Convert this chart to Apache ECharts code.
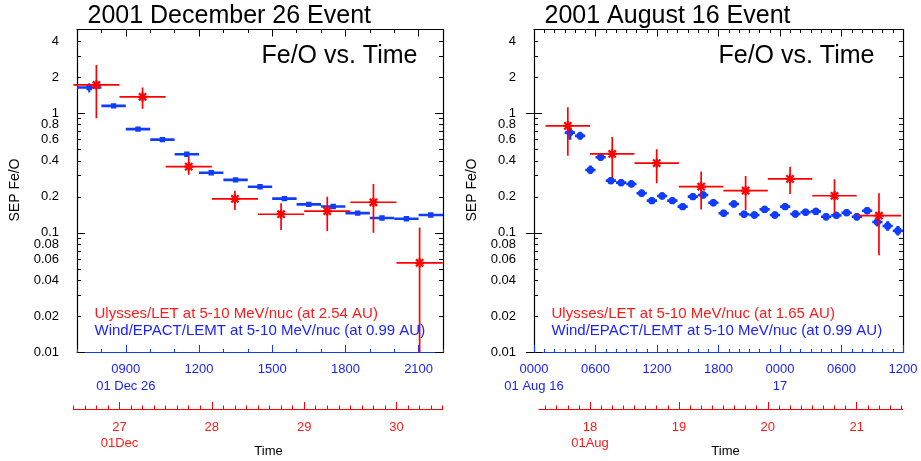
<!DOCTYPE html>
<html><head><meta charset="utf-8">
<script src="https://cdn.jsdelivr.net/npm/echarts@6/dist/echarts.min.js"></script>
<style>html,body{margin:0;padding:0;background:#fff}#c{width:921px;height:461px}</style>
</head><body><div id="c"></div><script>
// ===== 2001 December 26 event =====
// Wind/EPACT/LEMT (hour of Dec 26, bin centre)
const decWindHour = [7.5, 8.5, 9.5, 10.5, 11.5, 12.5, 13.5, 14.5, 15.5, 16.5, 17.5, 18.5, 19.5, 20.5, 21.5];
const decWindFeO  = [1.64, 1.15, 0.735, 0.601, 0.454, 0.318, 0.277, 0.243, 0.193, 0.173, 0.166, 0.146, 0.133, 0.131, 0.141];
const decWindLo   = [1.49, 1.12, 0.715, 0.585, 0.442, 0.309, 0.269, 0.236, 0.187, 0.168, 0.161, 0.141, 0.129, 0.127, 0.137];
const decWindHi   = [1.78, 1.18, 0.755, 0.617, 0.466, 0.327, 0.285, 0.250, 0.199, 0.178, 0.171, 0.151, 0.137, 0.135, 0.145];
// Ulysses/LET (day of Dec 2001, bin centre)
const decUlyDay = [26.75, 27.25, 27.75, 28.25, 28.75, 29.25, 29.75, 30.25];
const decUlyFeO = [1.72, 1.37, 0.357, 0.192, 0.143, 0.152, 0.180, 0.0562];
const decUlyLo  = [0.908, 1.086, 0.305, 0.155, 0.1055, 0.1035, 0.100, 0.005];
const decUlyHi  = [2.52, 1.637, 0.43, 0.225, 0.177, 0.2005, 0.256, 0.111];

// ===== 2001 August 16 event =====
// Wind/EPACT/LEMT (hours since Aug 16 00:00, bin centre)
const augWindHour = [3.5, 4.5, 5.5, 6.5, 7.5, 8.5, 9.5, 10.5, 11.5, 12.5, 13.5, 14.5, 15.5, 16.5, 17.5, 18.5, 19.5, 20.5, 21.5, 22.5, 23.5, 24.5, 25.5, 26.5, 27.5, 28.5, 29.5, 30.5, 31.5, 32.5, 33.5, 34.5, 35.5];
const augWindFeO  = [0.688, 0.646, 0.335, 0.4285, 0.273, 0.2626, 0.256, 0.214, 0.1857, 0.203, 0.1857, 0.1654, 0.2005, 0.207, 0.1786, 0.1456, 0.174, 0.143, 0.141, 0.157, 0.141, 0.1654, 0.1436, 0.1485, 0.151, 0.1364, 0.140, 0.1473, 0.1364, 0.153, 0.123, 0.114, 0.104];
const augWindLo   = [0.60, 0.60, 0.31, 0.40, 0.255, 0.245, 0.24, 0.20, 0.174, 0.19, 0.174, 0.155, 0.188, 0.194, 0.167, 0.136, 0.163, 0.134, 0.132, 0.147, 0.132, 0.155, 0.134, 0.139, 0.141, 0.127, 0.131, 0.138, 0.127, 0.143, 0.113, 0.104, 0.095];
const augWindHi   = [0.76, 0.70, 0.365, 0.46, 0.293, 0.282, 0.275, 0.23, 0.199, 0.218, 0.199, 0.177, 0.215, 0.222, 0.192, 0.156, 0.187, 0.153, 0.151, 0.168, 0.151, 0.177, 0.154, 0.159, 0.162, 0.146, 0.150, 0.158, 0.146, 0.164, 0.134, 0.125, 0.114];
// Ulysses/LET (day of Aug 2001, bin centre)
const augUlyDay = [17.75, 18.25, 18.75, 19.25, 19.75, 20.25, 20.75, 21.25];
const augUlyFeO = [0.783, 0.456, 0.382, 0.243, 0.225, 0.282, 0.204, 0.139];
const augUlyLo  = [0.44, 0.286, 0.26, 0.157, 0.155, 0.211, 0.146, 0.065];
const augUlyHi  = [1.12, 0.633, 0.50, 0.325, 0.299, 0.357, 0.28, 0.214];

// ===== axis ticks / labels =====
const yLabels     = [0.01, 0.02, 0.04, 0.06, 0.08, 0.1, 0.2, 0.4, 0.6, 0.8, 1, 2, 4];
const yMajorTicks = [0.01, 0.1, 1];
const yMinorTicks = [0.02, 0.03, 0.04, 0.05, 0.06, 0.07, 0.08, 0.09, 0.2, 0.3, 0.4, 0.5, 0.6, 0.7, 0.8, 0.9, 2, 3, 4];
const decHourLabels = [9, 12, 15, 18, 21];
const decHourDate   = {9: '01 Dec 26'};
const decDayLabels  = [27, 28, 29, 30];
const decDayDate    = {27: '01Dec'};
const augHourLabels = [0, 6, 12, 18, 24, 30, 36];
const augHourDate   = {0: '01 Aug 16', 24: '17'};
const augDayLabels  = [18, 19, 20, 21];
const augDayDate    = {18: '01Aug'};

const WIND_HALF_BIN_H = 0.5;   // 1-hour bins
const ULY_HALF_BIN_D = 0.25;   // 12-hour bins

const BLUE = '#0f3cff', BLUE_TXT = '#1c22ff', RED = '#ff0000', RED_TXT = '#ff1a1a';
const FONT = '"Liberation Sans", Arial, Helvetica, sans-serif';

function range(a, b, s) { const r = []; for (let v = a; v <= b + 1e-9; v += s) r.push(+v.toFixed(4)); return r; }
function hhmm(h) { h = ((Math.round(h) % 24) + 24) % 24; return (h < 10 ? '0' : '') + h + '00'; }
function yfmt(v) { return String(+(+v).toPrecision(2)); }
function rows(a, b, c, d) { return a.map((v, i) => [v, b[i], c[i], d[i]]); }

function windRender(kind) {
  return function (params, api) {
    const x = api.value(0), y = api.value(1), lo = api.value(2), hi = api.value(3);
    const c = api.coord([x, y]);
    const l = api.coord([x - WIND_HALF_BIN_H, y]), r = api.coord([x + WIND_HALF_BIN_H, y]);
    const t = api.coord([x, hi]), b = api.coord([x, lo]);
    const ch = [
      {type: 'line', shape: {x1: l[0], y1: c[1], x2: r[0], y2: c[1]}, style: {stroke: BLUE, lineWidth: 2.6}},
      {type: 'line', shape: {x1: c[0], y1: t[1], x2: c[0], y2: b[1]}, style: {stroke: BLUE, lineWidth: kind === 'square' ? 2 : 3}}
    ];
    if (kind === 'square') ch.push({type: 'rect', shape: {x: c[0] - 2.7, y: c[1] - 2.7, width: 5.4, height: 5.4}, style: {fill: BLUE}});
    else ch.push({type: 'circle', shape: {cx: c[0], cy: c[1], r: 3.7}, style: {fill: BLUE}});
    return {type: 'group', children: ch};
  };
}
function ulyRender(params, api) {
  const x = api.value(0), y = api.value(1), lo = api.value(2), hi = api.value(3);
  const c = api.coord([x, y]);
  const l = api.coord([x - ULY_HALF_BIN_D, y]), r = api.coord([x + ULY_HALF_BIN_D, y]);
  const t = api.coord([x, hi]), b = api.coord([x, lo]);
  const s = 4.6, d = 3.6;
  const st = {stroke: RED, lineWidth: 1.7};
  const st2 = {stroke: RED, lineWidth: 2.2};
  return {type: 'group', children: [
    {type: 'line', shape: {x1: l[0], y1: c[1], x2: r[0], y2: c[1]}, style: st},
    {type: 'line', shape: {x1: c[0], y1: t[1], x2: c[0], y2: b[1]}, style: st},
    {type: 'line', shape: {x1: c[0] - s, y1: c[1], x2: c[0] + s, y2: c[1]}, style: st2},
    {type: 'line', shape: {x1: c[0], y1: c[1] - s, x2: c[0], y2: c[1] + s}, style: st2},
    {type: 'line', shape: {x1: c[0] - d, y1: c[1] - d, x2: c[0] + d, y2: c[1] + d}, style: st2},
    {type: 'line', shape: {x1: c[0] - d, y1: c[1] + d, x2: c[0] + d, y2: c[1] - d}, style: st2}
  ]};
}

const option = {animation: false, backgroundColor: '#fff', grid: [], xAxis: [], yAxis: [], series: [], graphic: []};
const OFF = {show: false};
const TOP = 29.5, H = 323;

function addPanel(P) {
  const g = option.grid.length;
  option.grid.push({left: P.left, top: TOP, width: P.width, height: H, containLabel: false, outerBoundsMode: 'none', show: false});
  option.grid.push({left: P.redLeft, top: TOP, width: P.redWidth, height: H, containLabel: false, outerBoundsMode: 'none', show: false});
  const x0 = option.xAxis.length, y0 = option.yAxis.length;
  const minor = range(P.hMin, P.hMax, 1);
  // blue bottom axis (data axis, minor ticks + labels)
  option.xAxis.push({type: 'value', gridIndex: g, position: 'bottom', min: P.hMin, max: P.hMax,
    axisLine: {show: true, onZero: false, lineStyle: {color: BLUE, width: 1.2}},
    axisTick: {show: true, inside: true, length: 3.5, lineStyle: {color: BLUE, width: 1}, customValues: minor},
    axisLabel: {show: true, margin: 8, customValues: P.hLabels, color: BLUE_TXT, fontFamily: FONT, fontSize: 13, lineHeight: 17,
      formatter: v => hhmm(v) + (P.hDate[Math.round(v)] !== undefined ? '\n' + P.hDate[Math.round(v)] : '')},
    splitLine: OFF});
  // blue bottom major ticks
  option.xAxis.push({type: 'value', gridIndex: g, position: 'bottom', min: P.hMin, max: P.hMax,
    axisLine: OFF, axisLabel: OFF, splitLine: OFF,
    axisTick: {show: true, inside: true, length: 7.5, lineStyle: {color: BLUE, width: 1}, customValues: P.hLabels}});
  // top frame minor / major ticks
  option.xAxis.push({type: 'value', gridIndex: g, position: 'top', min: P.hMin, max: P.hMax,
    axisLine: {show: true, onZero: false, lineStyle: {color: '#000', width: 1.2}}, axisLabel: OFF, splitLine: OFF,
    axisTick: {show: true, inside: true, length: 3.5, lineStyle: {color: '#000', width: 1}, customValues: minor}});
  option.xAxis.push({type: 'value', gridIndex: g, position: 'top', min: P.hMin, max: P.hMax,
    axisLine: OFF, axisLabel: OFF, splitLine: OFF,
    axisTick: {show: true, inside: true, length: 7, lineStyle: {color: '#000', width: 1}, customValues: P.hLabels}});
  // y axes
  option.yAxis.push({type: 'log', logBase: 10, gridIndex: g, position: 'left', min: 0.01, max: 5,
    axisLine: {show: true, onZero: false, lineStyle: {color: '#000', width: 1.2}},
    axisTick: {show: true, inside: true, length: 4, lineStyle: {color: '#000', width: 1}, customValues: yMinorTicks},
    axisLabel: {show: true, margin: 18, customValues: yLabels, color: '#000', fontFamily: FONT, fontSize: 13, formatter: yfmt},
    splitLine: OFF});
  option.yAxis.push({type: 'log', logBase: 10, gridIndex: g, position: 'left', min: 0.01, max: 5,
    axisLine: OFF, axisLabel: OFF, splitLine: OFF,
    axisTick: {show: true, inside: true, length: 8, lineStyle: {color: '#000', width: 1}, customValues: yMajorTicks}});
  option.yAxis.push({type: 'log', logBase: 10, gridIndex: g, position: 'right', min: 0.01, max: 5,
    axisLine: {show: true, onZero: false, lineStyle: {color: '#000', width: 1.2}}, axisLabel: OFF, splitLine: OFF,
    axisTick: {show: true, inside: true, length: 4, lineStyle: {color: '#000', width: 1}, customValues: yMinorTicks}});
  option.yAxis.push({type: 'log', logBase: 10, gridIndex: g, position: 'right', min: 0.01, max: 5,
    axisLine: OFF, axisLabel: OFF, splitLine: OFF,
    axisTick: {show: true, inside: true, length: 8, lineStyle: {color: '#000', width: 1}, customValues: yMajorTicks}});
  // red (Ulysses) axis in its own grid
  const xr = option.xAxis.length;
  option.xAxis.push({type: 'value', gridIndex: g + 1, position: 'bottom', offset: 56.5, min: P.dMin, max: P.dMax,
    axisLine: {show: true, onZero: false, lineStyle: {color: RED, width: 1.2}},
    axisTick: {show: true, inside: true, length: 3.5, lineStyle: {color: RED, width: 1}, customValues: range(P.dTick0, P.dTick1, 0.125)},
    axisLabel: {show: true, margin: 10, customValues: P.dLabels, color: RED_TXT, fontFamily: FONT, fontSize: 13, lineHeight: 16,
      formatter: v => String(Math.round(v)) + (P.dDate[Math.round(v)] !== undefined ? '\n' + P.dDate[Math.round(v)] : '')},
    splitLine: OFF});
  option.xAxis.push({type: 'value', gridIndex: g + 1, position: 'bottom', offset: 56.5, min: P.dMin, max: P.dMax,
    axisLine: OFF, axisLabel: OFF, splitLine: OFF,
    axisTick: {show: true, inside: true, length: 7, lineStyle: {color: RED, width: 1}, customValues: P.dLabels}});
  const yr = option.yAxis.length;
  option.yAxis.push({type: 'log', logBase: 10, gridIndex: g + 1, min: 0.01, max: 5, show: false});

  option.series.push({type: 'custom', xAxisIndex: x0, yAxisIndex: y0, clip: true, encode: {x: 0, y: 1},
    renderItem: windRender(P.windShape), data: P.wind, z: 3});
  option.series.push({type: 'custom', xAxisIndex: xr, yAxisIndex: yr, clip: true, encode: {x: 0, y: 1},
    renderItem: ulyRender, data: P.uly, z: 4});

  const T = (text, x, y, size, color, align, extra) => Object.assign({type: 'text', x: x, y: y, z: 10,
    style: {text: text, fontFamily: FONT, fontSize: size, fill: color, align: align || 'left', verticalAlign: 'middle'}}, extra || {});
  option.graphic.push(T(P.title, P.left + 10.5, 16.5, 25, '#000', 'left'));
  option.graphic.push(T('Fe/O vs. Time', P.left + 340.5, 56.5, 25, '#000', 'right'));
  option.graphic.push(T(P.ulyLegend, P.left + 17.5, 313.5, 15, RED_TXT, 'left'));
  option.graphic.push(T('Wind/EPACT/LEMT at 5-10 MeV/nuc (at 0.99 AU)', P.left + 17.5, 330.5, 15, BLUE_TXT, 'left'));
  option.graphic.push(T('SEP Fe/O', P.left - 61.5, 190, 14, '#000', 'center', {rotation: Math.PI / 2}));
  option.graphic.push(T('Time', P.left + 191.5, 451, 13, '#000', 'center'));
}

addPanel({left: 77, width: 366, redLeft: 73.3, redWidth: 369.4,
  hMin: 7, hMax: 22, hLabels: decHourLabels, hDate: decHourDate,
  dMin: 26.5, dMax: 30.5, dTick0: 26.5, dTick1: 30.5, dLabels: decDayLabels, dDate: decDayDate,
  windShape: 'square', wind: rows(decWindHour, decWindFeO, decWindLo, decWindHi), uly: rows(decUlyDay, decUlyFeO, decUlyLo, decUlyHi),
  title: '2001 December 26 Event', ulyLegend: 'Ulysses/LET at 5-10 MeV/nuc (at 2.54 AU)'});
addPanel({left: 534, width: 369, redLeft: 539, redWidth: 363.7,
  hMin: 0, hMax: 36, hLabels: augHourLabels, hDate: augHourDate,
  dMin: 17.426, dMax: 21.517, dTick0: 17.5, dTick1: 21.5, dLabels: augDayLabels, dDate: augDayDate,
  windShape: 'circle', wind: rows(augWindHour, augWindFeO, augWindLo, augWindHi), uly: rows(augUlyDay, augUlyFeO, augUlyLo, augUlyHi),
  title: '2001 August 16 Event', ulyLegend: 'Ulysses/LET at 5-10 MeV/nuc (at 1.65 AU)'});

const chart = echarts.init(document.getElementById('c'), null, {renderer: 'canvas'});
chart.setOption(option);
</script></body></html>
